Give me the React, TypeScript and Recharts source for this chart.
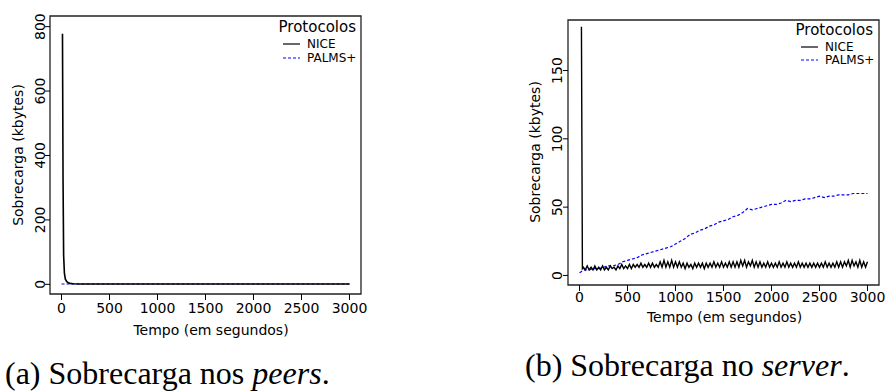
import React from 'react';
import { LineChart, Line, XAxis, YAxis, ReferenceArea, Label } from 'recharts';

// ---------- data ----------
const X_TICKS = [0, 500, 1000, 1500, 2000, 2500, 3000];
const PEERS_Y_TICKS = [0, 200, 400, 600, 800];
const SERVER_Y_TICKS = [0, 50, 100, 150];

const PEERS_NICE_T = [10, 16, 22, 30, 40, 55, 70, 90, 120, 200, 500, 1000, 1500, 2000, 2500, 3000];
const PEERS_NICE_V = [778, 320, 90, 35, 16, 8, 5, 3, 2, 1, 1, 1, 1, 1, 1, 1];
const PEERS_PALMS_T = [0, 500, 1000, 1500, 2000, 2500, 3000];
const PEERS_PALMS_V = [1, 1, 1, 1, 1, 1, 1];

const SERVER_NICE_HEAD_T = [20, 30];
const SERVER_NICE_HEAD_V = [182, 5];
const SERVER_NICE_START = 40;
const SERVER_NICE_STEP = 20;
const SERVER_NICE_V = [
  6, 4, 7, 4, 6, 4, 7, 4, 6, 4,
  7, 4, 6, 4, 7, 5, 6, 4, 7, 5,
  8, 5, 7, 5, 8, 5, 8, 6, 8, 6,
  9, 6, 8, 6, 9, 6, 9, 6, 8, 6,
  10, 6, 11, 6, 10, 6, 11, 6, 10, 6,
  10, 6, 9, 5, 9, 6, 8, 5, 9, 6,
  9, 6, 9, 5, 9, 6, 9, 6, 10, 6,
  9, 6, 10, 6, 9, 6, 10, 6, 10, 6,
  10, 6, 11, 7, 11, 6, 10, 7, 11, 6,
  10, 6, 10, 6, 9, 6, 10, 6, 9, 6,
  9, 6, 10, 6, 9, 6, 10, 6, 9, 6,
  9, 6, 10, 6, 9, 6, 9, 6, 9, 6,
  9, 6, 9, 6, 9, 6, 10, 6, 9, 6,
  9, 6, 10, 6, 10, 6, 10, 7, 11, 6,
  11, 7, 10, 6, 11, 6, 10, 6, 10,
];
const SERVER_PALMS_START = 0;
const SERVER_PALMS_STEP = 50;
const SERVER_PALMS_V = [
  2, 4, 4, 5, 5, 6, 7, 7, 8, 10,
  11, 12, 13, 15, 16, 17, 18, 19, 20, 21,
  23, 25, 27, 30, 31, 33, 34, 36, 37, 39,
  40, 41, 43, 44, 46, 49, 48, 49, 50, 51,
  52, 52, 53, 55, 54, 55, 55, 56, 56, 57,
  58, 57, 58, 58, 59, 59, 59, 60, 60, 60,
  60,
];

const SERIES_NAMES = ['NICE', 'PALMS+'];
const LEGEND_TITLE = 'Protocolos';
const X_TITLE = 'Tempo (em segundos)';
const Y_TITLE = 'Sobrecarga (kbytes)';

// ---------- build rows ----------
const zip = (ts: number[], vs: number[]) => ts.map((t, i) => ({ t, v: vs[i] }));
const regular = (start: number, step: number, vs: number[]) => vs.map((v, i) => ({ t: start + i * step, v }));

const peersNice = zip(PEERS_NICE_T, PEERS_NICE_V);
const peersPalms = zip(PEERS_PALMS_T, PEERS_PALMS_V);
const serverNice = [...zip(SERVER_NICE_HEAD_T, SERVER_NICE_HEAD_V), ...regular(SERVER_NICE_START, SERVER_NICE_STEP, SERVER_NICE_V)];
const serverPalms = regular(SERVER_PALMS_START, SERVER_PALMS_STEP, SERVER_PALMS_V);

const FONT = '"DejaVu Sans", sans-serif';
const BLUE = '#0000ff';

const RotTick = (props: any) => {
  const { y, payload, cx } = props;
  return (
    <text
      transform={`translate(${cx},${y}) rotate(-90)`}
      textAnchor="middle"
      dy="0.36em"
      fontSize={14}
      fontFamily={FONT}
      fill="#000"
    >
      {payload.value}
    </text>
  );
};

// legend: titleRight = right edge of title, lineX = left of sample line, rows y centers
const LegendBox = ({ left, top, titleRight, lineX, y0, y1, y2 }: any) => (
  <svg width={130} height={60} style={{ position: 'absolute', left, top, overflow: 'visible' }}>
    <text x={titleRight} y={y0} textAnchor="end" fontSize={15} fontFamily={FONT} fill="#000" dy="0.36em">
      {LEGEND_TITLE}
    </text>
    <line x1={lineX} x2={lineX + 17} y1={y1} y2={y1} stroke="#000" strokeWidth={1.2} />
    <text x={lineX + 24} y={y1} fontSize={12} fontFamily={FONT} fill="#000" dy="0.36em">
      {SERIES_NAMES[0]}
    </text>
    <line x1={lineX} x2={lineX + 17} y1={y2} y2={y2} stroke={BLUE} strokeWidth={1.2} strokeDasharray="3 2" />
    <text x={lineX + 24} y={y2} fontSize={12} fontFamily={FONT} fill="#000" dy="0.36em">
      {SERIES_NAMES[1]}
    </text>
  </svg>
);

const Caption = ({ left, top, label, rest, it }: any) => (
  <div
    style={{
      position: 'absolute',
      left,
      top,
      fontFamily: '"Liberation Serif", "Times New Roman", serif',
      fontSize: 32,
      lineHeight: '36px',
      whiteSpace: 'nowrap',
      color: '#000',
    }}
  >
    {label} {rest} <i>{it}</i>.
  </div>
);

export default function App() {
  return (
    <div style={{ position: 'absolute', left: 0, top: 0, width: 886, height: 392, background: '#fff' }}>
      {/* (a) peers */}
      <div style={{ position: 'absolute', left: 0, top: 0 }}>
        <LineChart width={400} height={340} margin={{ top: 16, right: 39, left: 0, bottom: 0 }}>
          <XAxis
            dataKey="t"
            type="number"
            domain={[-120, 3120]}
            ticks={X_TICKS}
            allowDataOverflow
            axisLine={false}
            tickLine={{ stroke: '#000' }}
            tickSize={6}
            tickMargin={3}
            height={46}
            tick={{ fontSize: 14, fontFamily: FONT, fill: '#000' }}
            interval={0}
          >
            <Label
              content={() => (
                <text x={211} y={330} textAnchor="middle" dy="0.36em" fontSize={14} fontFamily={FONT} fill="#000">
                  {X_TITLE}
                </text>
              )}
            />
          </XAxis>
          <YAxis
            type="number"
            domain={[-30, 833]}
            ticks={PEERS_Y_TICKS}
            allowDataOverflow
            axisLine={false}
            tickLine={{ stroke: '#000' }}
            tickSize={5}
            width={50}
            interval={0}
            tick={(p: any) => <RotTick {...p} cx={39.5} />}
          >
            <Label
              content={() => (
                <text transform="translate(18,155) rotate(-90)" textAnchor="middle" dy="0.36em" fontSize={14} fontFamily={FONT} fill="#000">
                  {Y_TITLE}
                </text>
              )}
            />
          </YAxis>
          <ReferenceArea x1={-120} x2={3120} y1={-30} y2={833} fill="none" stroke="#222" strokeWidth={1.3} />
          <Line data={peersPalms} dataKey="v" stroke={BLUE} strokeWidth={1.2} strokeDasharray="3 2" dot={false} isAnimationActive={false} />
          <Line data={peersNice} dataKey="v" stroke="#000" strokeWidth={1.6} dot={false} isAnimationActive={false} />
        </LineChart>
        <LegendBox left={240} top={10} titleRight={116} lineX={43} y0={17} y1={34} y2={48} />
      </div>

      {/* (b) server */}
      <div style={{ position: 'absolute', left: 480, top: 0 }}>
        <LineChart width={406} height={340} margin={{ top: 20, right: 7, left: 0, bottom: 0 }}>
          <XAxis
            dataKey="t"
            type="number"
            domain={[-120, 3120]}
            ticks={X_TICKS}
            allowDataOverflow
            axisLine={false}
            tickLine={{ stroke: '#000' }}
            tickSize={6}
            tickMargin={1}
            height={55}
            tick={{ fontSize: 14, fontFamily: FONT, fill: '#000' }}
            interval={0}
          >
            <Label
              content={() => (
                <text x={244.5} y={317} textAnchor="middle" dy="0.36em" fontSize={14} fontFamily={FONT} fill="#000">
                  {X_TITLE}
                </text>
              )}
            />
          </XAxis>
          <YAxis
            type="number"
            domain={[-7, 187]}
            ticks={SERVER_Y_TICKS}
            allowDataOverflow
            axisLine={false}
            tickLine={{ stroke: '#000' }}
            tickSize={5}
            width={88}
            interval={0}
            tick={(p: any) => <RotTick {...p} cx={76.7} />}
          >
            <Label
              content={() => (
                <text transform="translate(55,152) rotate(-90)" textAnchor="middle" dy="0.36em" fontSize={14} fontFamily={FONT} fill="#000">
                  {Y_TITLE}
                </text>
              )}
            />
          </YAxis>
          <ReferenceArea x1={-120} x2={3120} y1={-7} y2={187} fill="none" stroke="#222" strokeWidth={1.3} />
          <Line data={serverPalms} dataKey="v" stroke={BLUE} strokeWidth={1.2} strokeDasharray="3 2" dot={false} isAnimationActive={false} />
          <Line data={serverNice} dataKey="v" stroke="#000" strokeWidth={1.4} dot={false} isAnimationActive={false} />
        </LineChart>
        <LegendBox left={276} top={10} titleRight={117} lineX={45} y0={20} y1={37} y2={50} />
      </div>

      <Caption left={5} top={355} label="(a)" rest="Sobrecarga nos" it="peers" />
      <Caption left={525} top={347} label="(b)" rest="Sobrecarga no" it="server" />
    </div>
  );
}
